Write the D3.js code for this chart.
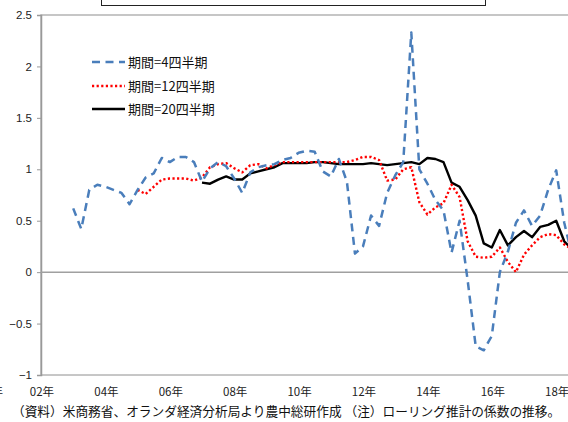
<!DOCTYPE html>
<html>
<head>
<meta charset="utf-8">
<script src="https://cdn.jsdelivr.net/npm/d3@7"></script>
<style>
	body { margin: 0; background: #fff; }
	svg { display: block; font-family: "Noto Sans CJK JP", "Noto Sans", sans-serif; }
</style>
</head>
<body>
<div id="graphic"></div>
<script>
// quarters from 2002Q1, year labels every 8 quarters
var firstYear = 2002;
var nQuarters = 67;
var yearLabels = ['02年', '04年', '06年', '08年', '10年', '12年', '14年', '16年', '18年'];
var yTicks = [-1, -0.5, 0, 0.5, 1, 1.5, 2, 2.5];

// rolling window = 4 quarters, starts 2003Q1
var q4Start = 4;
var q4Values = [
	0.62, 0.42, 0.80, 0.85, 0.83, 0.80, 0.77, 0.66, 0.80, 0.92,
	0.96, 1.11, 1.07, 1.12, 1.12, 1.07, 0.88, 1.01, 1.07, 1.03,
	0.91, 0.77, 0.97, 1.02, 1.04, 1.05, 1.09, 1.11, 1.16, 1.18,
	1.17, 0.98, 0.93, 1.10, 0.88, 0.18, 0.25, 0.55, 0.45, 0.77,
	0.94, 1.07, 2.33, 1.00, 0.86, 0.70, 0.60, 0.19, 0.50, -0.08,
	-0.72, -0.76, -0.62, 0.00, 0.20, 0.48, 0.60, 0.45, 0.55, 0.80,
	0.99, 0.48, 0.15
];

// rolling window = 12 quarters, starts 2005Q1
var q12Start = 12;
var q12Values = [
	0.80, 0.76, 0.83, 0.90, 0.91, 0.91, 0.91, 0.89,
	0.92, 1.02, 1.05, 1.06, 1.01, 0.97, 1.04, 1.05, 1.01, 1.04,
	1.07, 1.07, 1.07, 1.07, 1.07, 1.07, 1.07, 1.07, 1.07, 1.09,
	1.12, 1.12, 1.09, 0.89, 0.90, 1.00, 1.02, 0.68, 0.56, 0.63,
	0.67, 0.85, 0.73, 0.30, 0.15, 0.14, 0.15, 0.24, 0.10, 0.00,
	0.17, 0.26, 0.34, 0.37, 0.36, 0.27, 0.22
];

// rolling window = 20 quarters, starts 2007Q1
var q20Start = 20;
var q20Values = [
	0.87, 0.86, 0.90, 0.93, 0.90, 0.90, 0.96, 0.98, 1.00, 1.02,
	1.06, 1.06, 1.06, 1.06, 1.07, 1.07, 1.06, 1.05, 1.05, 1.05,
	1.05, 1.06, 1.05, 1.04, 1.05, 1.06, 1.07, 1.05, 1.11, 1.10,
	1.07, 0.87, 0.83, 0.70, 0.55, 0.28, 0.24, 0.41, 0.26, 0.34,
	0.40, 0.34, 0.44, 0.46, 0.50, 0.30, 0.22
];

var seriesNames = ['期間=4四半期', '期間=12四半期', '期間=20四半期'];
var caption = '（資料）米商務省、オランダ経済分析局より農中総研作成 （注）ローリング推計の係数の推移。';

var width = 568, height = 422;
var margin = { left: 41, top: 15, bottom: 375 };

var quarters = d3.range(nQuarters).map((i) => (firstYear + Math.floor(i / 4)) + 'Q' + (i % 4 + 1));

var x = d3.scalePoint().domain(quarters).range([margin.left, margin.left + 66 * 8.05]);
var y = d3.scaleLinear().domain([-1, 2.5]).range([margin.bottom, margin.top]);

var svg = d3.select('#graphic').append('svg')
	.attr('width', width)
	.attr('height', height);

// plot frame (top and bottom border, right side is cut off)
svg.append('rect')
	.attr('x', margin.left)
	.attr('y', margin.top)
	.attr('width', 600)
	.attr('height', margin.bottom - margin.top)
	.attr('fill', 'none')
	.attr('stroke', '#b4b4b4')
	.attr('stroke-width', 1.5);

// title box, mostly above the page
svg.append('rect')
	.attr('x', 101.5)
	.attr('y', -6)
	.attr('width', 384)
	.attr('height', 11.5)
	.attr('fill', 'none')
	.attr('stroke', '#222')
	.attr('stroke-width', 1);

// y axis
var yAxis = d3.axisLeft(y).tickValues(yTicks).tickSize(4).tickPadding(5)
	.tickFormat((d) => (d < 0 ? '−' + Math.abs(d) : String(d)));
var yg = svg.append('g')
	.attr('transform', 'translate(' + margin.left + ',0)')
	.call(yAxis);
yg.select('.domain').attr('stroke', '#999').attr('stroke-width', 1.5);
yg.selectAll('line').attr('stroke', '#999');
yg.selectAll('text').attr('font-size', 11.5).attr('fill', '#222')
	.attr('font-family', '"Liberation Sans", Arial, sans-serif');

// zero line
svg.append('line')
	.attr('x1', margin.left).attr('x2', width)
	.attr('y1', y(0)).attr('y2', y(0))
	.attr('stroke', '#a0a0a0')
	.attr('stroke-width', 1.5);

// x labels sit under the plot area
svg.append('g')
	.selectAll('text')
	.data(yearLabels)
	.join('text')
	.attr('x', (d, i) => x(quarters[i * 8]) + 1)
	.attr('y', 396)
	.attr('text-anchor', 'middle')
	.attr('font-size', 11.5)
	.attr('fill', '#222')
	.text((d) => d);

// tail of a label cut off at the left edge, as in the source image
svg.append('text')
	.attr('x', 3).attr('y', 396)
	.attr('text-anchor', 'end')
	.attr('font-size', 11.5)
	.attr('fill', '#222')
	.text('00年');

function toPoints(start, values) {
	return values.map((v, i) => [x(quarters[start + i]), y(v)]);
}

var line = d3.line();

var styles = [
	{ color: '#4a7ebb', dash: '8,5.5', width: 2.5 },
	{ color: '#ff0000', dash: '2.2,2.4', width: 2.4 },
	{ color: '#000000', dash: null, width: 2.4 }
];

var series = [
	toPoints(q4Start, q4Values),
	toPoints(q12Start, q12Values),
	toPoints(q20Start, q20Values)
];

// draw black first so dashed lines sit on top like the original
[2, 1, 0].forEach(function (i) {
	svg.append('path')
		.attr('d', line(series[i]))
		.attr('fill', 'none')
		.attr('stroke', styles[i].color)
		.attr('stroke-width', styles[i].width)
		.attr('stroke-dasharray', styles[i].dash)
		.attr('stroke-linejoin', 'round');
});

// legend
var legendY = [62, 86, 109];
var legend = svg.append('g');
seriesNames.forEach(function (name, i) {
	legend.append('line')
		.attr('x1', 92).attr('x2', 125)
		.attr('y1', legendY[i]).attr('y2', legendY[i])
		.attr('stroke', styles[i].color)
		.attr('stroke-width', styles[i].width)
		.attr('stroke-dasharray', styles[i].dash);
	legend.append('text')
		.attr('x', 128)
		.attr('y', legendY[i])
		.attr('dy', '0.36em')
		.attr('font-size', 13)
		.attr('fill', '#111')
		.text(name);
});

// source note
svg.append('text')
	.attr('x', 12)
	.attr('y', 416)
	.attr('font-size', 12.7)
	.attr('fill', '#111')
	.text(caption);
</script>
</body>
</html>
